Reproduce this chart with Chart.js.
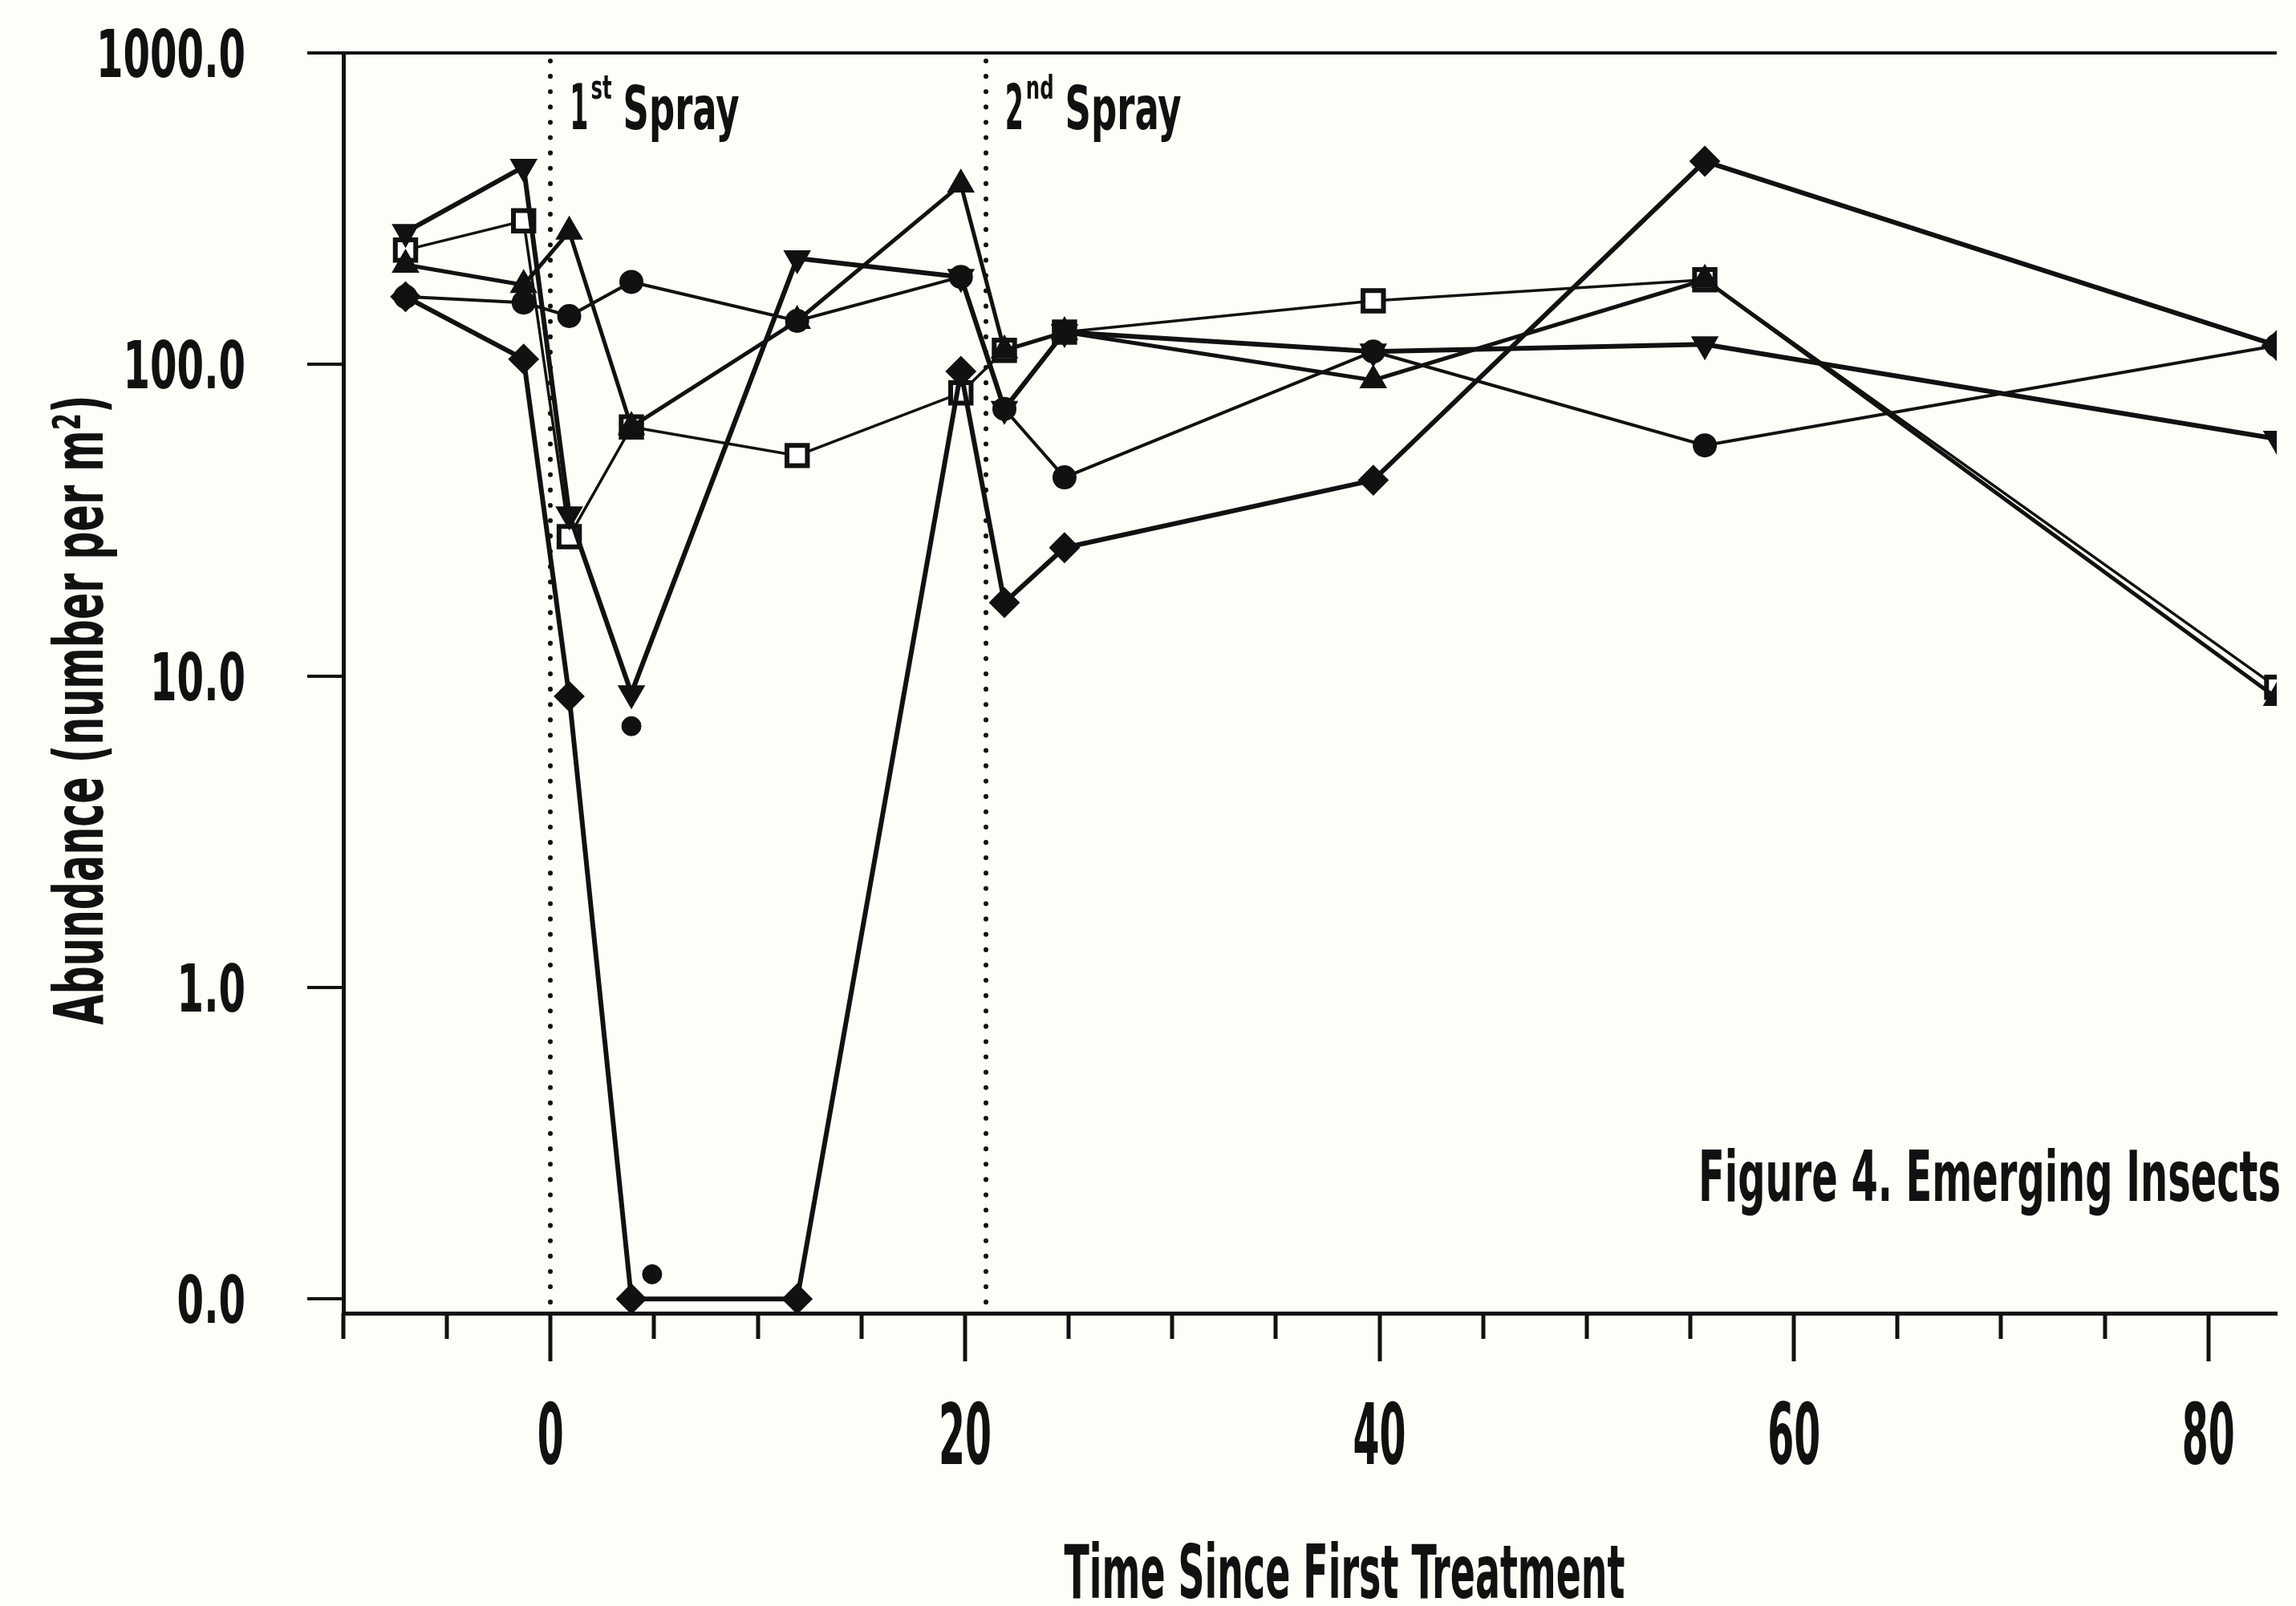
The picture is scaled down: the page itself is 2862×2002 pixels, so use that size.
<!DOCTYPE html>
<html>
<head>
<meta charset="utf-8">
<title>Emerging Insects</title>
<script src="https://cdn.jsdelivr.net/npm/chart.js@4.4.1/dist/chart.umd.min.js"></script>
<style>
  html, body { margin: 0; padding: 0; background: #fefef8; }
  canvas { display: block; }
</style>
</head>
<body>
<canvas id="chart" width="2862" height="2002"></canvas>
<script>
// Sampling days (days since the first treatment)
const sampleDays = [-7, -1.3, 0.9, 3.9, 11.9, 19.8, 21.9, 24.8, 39.7, 55.7, 83.3];

// Abundance (number per m²) per sampling day; 0 = nothing emerged
const seriesCircle       = [165, 158, 143, 184, 138, 191, 72, 43.4, 110, 55, 115];
const seriesTriangle     = [209, 180, 267, 63, 138, 378, 111, 127, 89, 187, 8.5];
const seriesDownTriangle = [266, 431, 33, 8.8, 219, 191, 72, 127, 110, 116, 57.7];
const seriesDiamond      = [165, 104, 8.6, 0, 0, 95, 17.2, 25.8, 42.5, 449, 115];
const seriesSquare       = [233, 289, 28, 63, 51, 81, 111, 127, 160, 187, 9.2];

// Single samples drawn without a connecting line
const extraDays   = [3.9, 4.9];
const extraValues = [6.9, 0.12];

// Spray applications
const sprayDays   = [0, 21];
const sprayDigits = ['1', '2'];
const spraySuffix = ['st', 'nd'];

// Axis ticks
const yTickValues = [0.1, 1, 10, 100, 1000];
const yTickLabels = ['0.0', '1.0', '10.0', '100.0', '1000.0'];
const xTickValues = [-10, -5, 0, 5, 10, 15, 20, 25, 30, 35, 40, 45, 50, 55, 60, 65, 70, 75, 80];
const xMajorTicks = [0, 20, 40, 60, 80];

// Zero counts sit on the "0.0" line of the log axis
const ZERO_LEVEL = 0.1;

const INK = '#111111';
const PAPER = '#fefef8';
const FONT_FAMILY = "'Liberation Sans Narrow', 'DejaVu Sans Condensed', 'Liberation Sans', sans-serif";

function toPoints(days, values) {
  return days.map((d, i) => ({ x: d, y: values[i] === 0 ? ZERO_LEVEL : values[i] }));
}

const seriesDefs = [
  { label: 'Series 1', values: seriesCircle,       style: 'circle',   radius: 14, rotation: 0,   fill: INK,       border: 2, line: 4 },
  { label: 'Series 2', values: seriesTriangle,     style: 'triangle', radius: 18, rotation: 0,   fill: INK,       border: 2, line: 5 },
  { label: 'Series 3', values: seriesDownTriangle, style: 'triangle', radius: 18, rotation: 180, fill: INK,       border: 2, line: 6 },
  { label: 'Series 4', values: seriesDiamond,      style: 'rectRot',  radius: 18, rotation: 0,   fill: INK,       border: 2, line: 6 },
  { label: 'Series 5', values: seriesSquare,       style: 'rect',     radius: 18, rotation: 0,   fill: '#ffffff', border: 6, line: 3.5 }
];

const datasets = seriesDefs.map(s => ({
  label: s.label,
  data: toPoints(sampleDays, s.values),
  showLine: true,
  fill: false,
  tension: 0,
  borderColor: INK,
  borderWidth: s.line,
  pointStyle: s.style,
  pointRotation: s.rotation,
  pointRadius: s.radius,
  pointBackgroundColor: s.fill,
  pointBorderColor: INK,
  pointBorderWidth: s.border
}));

datasets.push({
  label: 'Single samples',
  data: toPoints(extraDays, extraValues),
  showLine: false,
  pointStyle: 'circle',
  pointRadius: 12,
  pointBackgroundColor: INK,
  pointBorderColor: INK,
  pointBorderWidth: 1
});

// Bold condensed text, squeezed horizontally by sx; returns the drawn width
function squeezedText(ctx, text, x, y, size, sx, align) {
  ctx.font = 'bold ' + size + 'px ' + FONT_FAMILY;
  const w = ctx.measureText(text).width * sx;
  let left = x;
  if (align === 'center') left = x - w / 2;
  if (align === 'right') left = x - w;
  ctx.save();
  ctx.translate(left, y);
  ctx.scale(sx, 1);
  ctx.textAlign = 'left';
  ctx.textBaseline = 'alphabetic';
  ctx.fillText(text, 0, 0);
  ctx.restore();
  return w;
}

// Squeeze factor that makes `text` exactly `width` wide at `size`
function squeezeFor(ctx, text, size, width) {
  ctx.font = 'bold ' + size + 'px ' + FONT_FAMILY;
  return width / ctx.measureText(text).width;
}

const decorations = {
  id: 'decorations',
  beforeDraw(chart) {
    const ctx = chart.ctx;
    ctx.save();
    ctx.fillStyle = PAPER;
    ctx.fillRect(0, 0, chart.width, chart.height);
    ctx.restore();
  },
  beforeDatasetsDraw(chart) {
    const ctx = chart.ctx;
    const area = chart.chartArea;
    const xs = chart.scales.x;
    ctx.save();
    ctx.strokeStyle = INK;
    ctx.lineWidth = 6;
    ctx.lineCap = 'round';
    ctx.setLineDash([0.1, 19]);
    sprayDays.forEach(d => {
      const px = Math.round(xs.getPixelForValue(d));
      ctx.beginPath();
      ctx.moveTo(px, area.top + 10);
      ctx.lineTo(px, area.bottom - 6);
      ctx.stroke();
    });
    ctx.restore();
  },
  afterDraw(chart) {
    const ctx = chart.ctx;
    const area = chart.chartArea;
    const xs = chart.scales.x;
    const ys = chart.scales.y;
    ctx.save();
    ctx.fillStyle = INK;
    ctx.strokeStyle = INK;

    // x-axis tick marks: long at labelled ticks, short in between
    ctx.lineWidth = 5;
    ctx.lineCap = 'butt';
    xTickValues.forEach(v => {
      const px = Math.round(xs.getPixelForValue(v));
      const len = xMajorTicks.includes(v) ? 60 : 32;
      ctx.beginPath();
      ctx.moveTo(px, area.bottom);
      ctx.lineTo(px, area.bottom + len);
      ctx.stroke();
    });

    // x-axis tick labels
    const xSize = 105;
    const xSx = squeezeFor(ctx, '20', xSize, 66);
    xMajorTicks.forEach(v => {
      squeezedText(ctx, String(v), xs.getPixelForValue(v), area.bottom + 188, xSize, xSx, 'center');
    });

    // y-axis tick labels
    const ySize = 82;
    const ySx = squeezeFor(ctx, '1000.0', ySize, 186);
    yTickValues.forEach((v, i) => {
      squeezedText(ctx, yTickLabels[i], 306, ys.getPixelForValue(v) + 30, ySize, ySx, 'right');
    });

    // Spray annotations beside the dotted lines
    const sSx = squeezeFor(ctx, 'Spray', 74, 145);
    const base = area.top + 95;
    sprayDays.forEach((d, i) => {
      let cx = xs.getPixelForValue(d) + 24;
      cx += squeezedText(ctx, sprayDigits[i], cx, base, 78, sSx * 0.7, 'left');
      cx += 3;
      cx += squeezedText(ctx, spraySuffix[i], cx, base - 38, 40, sSx, 'left');
      cx += 14;
      squeezedText(ctx, 'Spray', cx, base, 74, sSx, 'left');
    });

    // Axis titles
    ctx.save();
    ctx.translate(128, 885);
    ctx.rotate(-Math.PI / 2);
    squeezedText(ctx, 'Abundance (number per m²)', 0, 0, 86,
      squeezeFor(ctx, 'Abundance (number per m²)', 86, 785), 'center');
    ctx.restore();

    squeezedText(ctx, 'Time Since First Treatment', 1676, 1992, 92,
      squeezeFor(ctx, 'Time Since First Treatment', 92, 699), 'center');

    // Figure caption
    squeezedText(ctx, 'Figure 4. Emerging Insects', 2117, 1497, 88,
      squeezeFor(ctx, 'Figure 4. Emerging Insects', 88, 726), 'left');

    ctx.restore();
  }
};

new Chart(document.getElementById('chart'), {
  type: 'line',
  data: { datasets },
  options: {
    responsive: false,
    devicePixelRatio: 1,
    animation: false,
    events: [],
    layout: { padding: { top: 66, right: 0, bottom: 0, left: 0 } },
    plugins: {
      legend: { display: false },
      tooltip: { enabled: false },
      title: { display: false }
    },
    scales: {
      x: {
        type: 'linear',
        min: -10,
        max: 83.3,
        afterBuildTicks: s => { s.ticks = xTickValues.map(v => ({ value: v })); },
        afterFit: s => { s.height = 365; },
        grid: { display: false, drawTicks: false },
        border: { display: true, color: INK, width: 5 },
        ticks: { display: false }
      },
      y: {
        type: 'logarithmic',
        min: 0.09,
        max: 1000,
        afterBuildTicks: s => { s.ticks = yTickValues.map(v => ({ value: v })); },
        afterFit: s => { s.width = 428; },
        grid: {
          drawOnChartArea: true,
          color: c => (c.tick && c.tick.value === 1000 ? INK : 'rgba(0,0,0,0)'),
          lineWidth: 4,
          tickLength: 45,
          tickColor: INK,
          tickWidth: 4
        },
        border: { display: true, color: INK, width: 5 },
        ticks: { display: false }
      }
    }
  },
  plugins: [decorations]
});
</script>
</body>
</html>
